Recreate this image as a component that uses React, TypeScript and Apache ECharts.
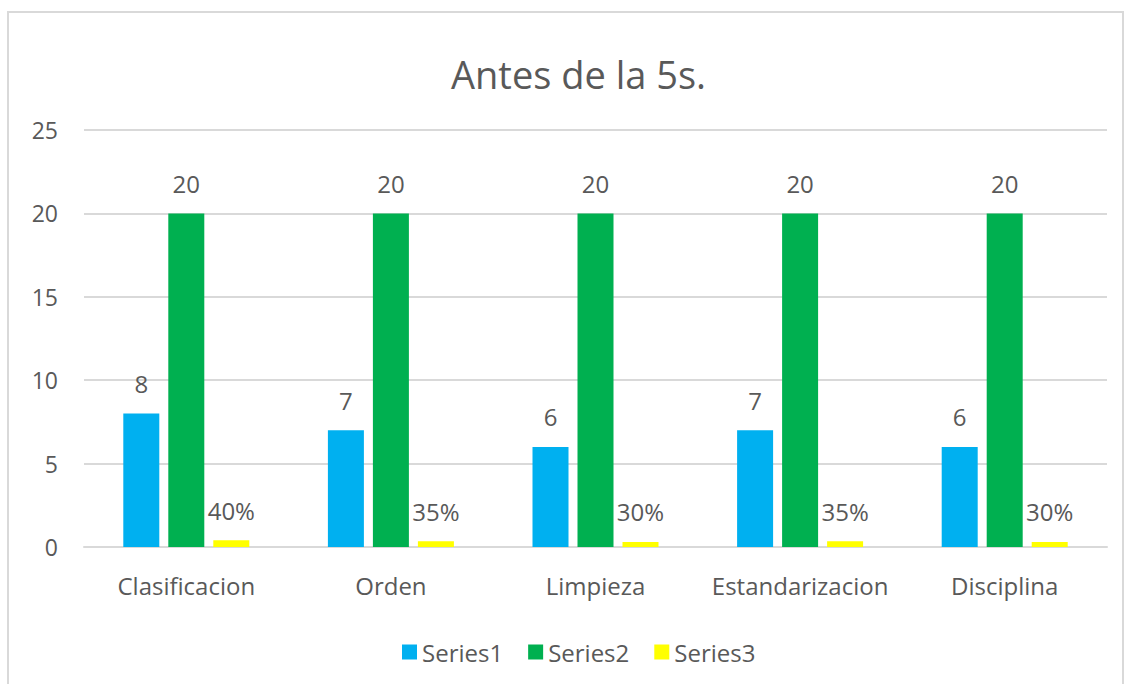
import React, { useEffect, useRef } from "react";
import * as echarts from "echarts";

const categories = ["Clasificacion", "Orden", "Limpieza", "Estandarizacion", "Disciplina"];
const series1 = [8, 7, 6, 7, 6];
const series2 = [20, 20, 20, 20, 20];
const series3 = [0.4, 0.35, 0.3, 0.35, 0.3];
const seriesNames = ["Series1", "Series2", "Series3"];
const colors = ["#00b0f0", "#00b050", "#ffff00"];

const FONT = "'Open Sans', Lato, sans-serif";
const TXT = "#595959";

export default function App() {
  const ref = useRef<HTMLDivElement>(null);
  useEffect(() => {
    if (!ref.current) return;
    const chart = echarts.init(ref.current, null, { renderer: "svg" });
    const labelBase = {
      show: true,
      position: "top" as const,
      distance: 18,
      color: TXT,
      fontSize: 24,
      fontFamily: FONT,
    };
    chart.setOption({
      animation: false,
      backgroundColor: "#ffffff",
      title: {
        text: "Antes de la 5s.",
        left: 446,
        top: 50,
        textStyle: { color: TXT, fontSize: 38, fontWeight: "normal", fontFamily: FONT },
      },
      graphic: [
        {
          type: "rect",
          shape: { x: 8, y: 12, width: 1115, height: 700 },
          style: { fill: "none", stroke: "#d9d9d9", lineWidth: 2 },
          silent: true,
        },
      ],
      legend: {
        left: 397,
        top: 635,
        itemWidth: 15,
        itemHeight: 15,
        itemGap: 25,
        icon: "rect",
        textStyle: { color: TXT, fontSize: 24, fontFamily: FONT },
        data: seriesNames,
      },
      grid: { left: 84, right: 26, top: 130, bottom: 137, containLabel: false },
      xAxis: {
        type: "category",
        data: categories,
        axisLine: { lineStyle: { color: "#d9d9d9", width: 2 } },
        axisTick: { show: false },
        axisLabel: { color: TXT, fontSize: 24, fontFamily: FONT, margin: 26, interval: 0 },
      },
      yAxis: {
        type: "value",
        min: 0,
        max: 25,
        interval: 5,
        axisLine: { show: false },
        axisTick: { show: false },
        axisLabel: { color: TXT, fontSize: 23, fontFamily: FONT, margin: 26 },
        splitLine: { lineStyle: { color: "#d9d9d9", width: 2 } },
      },
      series: [
        {
          name: seriesNames[0],
          type: "bar",
          data: series1,
          barWidth: 36,
          barGap: "25%",
          itemStyle: { color: colors[0] },
          label: { ...labelBase },
        },
        {
          name: seriesNames[1],
          type: "bar",
          data: series2,
          barWidth: 36,
          barGap: "25%",
          itemStyle: { color: colors[1] },
          label: { ...labelBase },
        },
        {
          name: seriesNames[2],
          type: "bar",
          data: series3,
          barWidth: 36,
          barGap: "25%",
          itemStyle: { color: colors[2] },
          label: {
            ...labelBase,
            formatter: (p: any) => Math.round(p.value * 100) + "%",
          },
        },
      ],
    });
    return () => chart.dispose();
  }, []);
  return (
    <div
      ref={ref}
      style={{ position: "fixed", left: 0, top: 0, width: 1133, height: 684 }}
    />
  );
}
